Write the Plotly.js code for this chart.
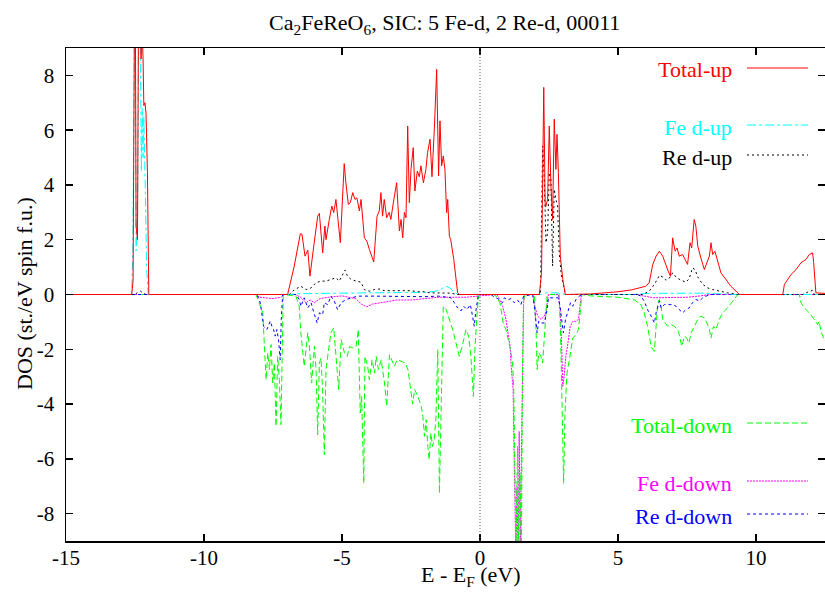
<!DOCTYPE html>
<html>
<head>
<meta charset="utf-8">
<script src="https://cdn.plot.ly/plotly-3.0.1.min.js"></script>
<style>html,body{margin:0;padding:0;background:#fff;}#chart{width:825px;height:592px;}</style>
</head>
<body>
<div id="chart"></div>
<script>
// ---- DATA ----
var seriesNames = ["Total-up", "Fe d-up", "Re d-up", "Total-down", "Fe d-down", "Re d-down"];

var totalUpX = [-15, -12.62, -12.57, -12.54, -12.5, -12.46, -12.41, -12.36, -12.32, -12.28, -12.25, -12.21, -12.18, -12.14, -12.1, -12.05, -12.0,
  -7.2, -6.97, -6.73, -6.51, -6.45, -6.34, -6.24, -6.16, -6.0, -5.88, -5.82, -5.7, -5.62, -5.58, -5.46, -5.37, -5.3, -5.22, -5.06,
  -4.92, -4.86, -4.77, -4.7, -4.61, -4.53, -4.46, -4.37, -4.31, -4.19, -4.1, -4.01, -3.85, -3.73, -3.65, -3.59, -3.53, -3.47, -3.38,
  -3.29, -3.23, -3.14, -3.02, -2.92, -2.86, -2.8, -2.74, -2.68, -2.62, -2.56, -2.5, -2.42, -2.36, -2.27, -2.2, -2.14, -2.05, -1.96,
  -1.9, -1.81, -1.74, -1.65, -1.57, -1.5, -1.45, -1.39, -1.33, -1.27, -1.21, -1.17, -1.11, -1.06, -0.95, -0.81, -0.75,
  2.1, 2.15, 2.23, 2.31, 2.36, 2.38, 2.45, 2.51, 2.57, 2.63, 2.69, 2.75, 2.79, 2.84, 2.91, 3.0, 3.09, 3.3,
  4.0, 4.5, 5.0, 5.5, 5.8, 6.0, 6.13, 6.26, 6.38, 6.5, 6.62, 6.74, 6.82, 6.9, 6.98, 7.07, 7.14, 7.22, 7.34, 7.52, 7.61, 7.67, 7.76,
  7.82, 7.89, 8.0, 8.13, 8.22, 8.31, 8.37, 8.43, 8.51, 8.61, 8.73, 8.91, 9.09, 9.34, 9.4,
  10.97, 11.03, 11.27, 11.45, 11.63, 11.81, 11.93, 12.05, 12.09, 12.17, 12.5];
var totalUpY = [0, 0, 0.5, 14, 14, 2.5, 2, 13, 13, 8.6, 9.8, 8.7, 6.9, 7.0, 6.6, 4.5, 0,
  0, 0, 1.04, 2.22, 2.2, 1.4, 1.62, 0.67, 1.95, 2.86, 2.96, 1.52, 2.5, 2.0, 2.74, 3.23, 2.99, 3.47, 1.89,
  4.78, 4.08, 3.29, 3.35, 3.72, 3.47, 3.53, 3.05, 3.47, 2.07, 1.95, 1.65, 1.19, 2.86, 3.05, 3.72, 2.86, 3.47, 2.8,
  3.0, 2.74, 3.35, 4.08, 2.32, 2.74, 2.07, 3.0, 2.8, 6.15, 3.35, 4.57, 5.36, 3.78, 4.51, 4.3, 4.7, 4.08, 4.57,
  5.18, 5.67, 4.3, 6.15, 8.22, 4.33, 6.34, 4.7, 5.06, 4.57, 2.99, 3.47, 2.13, 2.0, 1.28, 0.06, 0,
  0, 0, 0.8, 7.56, 3.35, 3.2, 3.47, 6.15, 3.96, 2.74, 6.4, 4.57, 5.85, 4.45, 1.4, 0.55, 0, 0,
  0.02, 0.06, 0.1, 0.17, 0.25, 0.3, 0.43, 1.1, 1.4, 1.58, 1.4, 1.04, 0.85, 0.67, 2.07, 1.58, 1.7, 1.4, 1.46, 1.1, 1.89, 1.7, 2.74,
  2.5, 1.77, 1.34, 0.91, 1.16, 1.4, 1.89, 1.46, 1.58, 1.25, 0.79, 0.55, 0.3, 0.06, 0,
  0, 0.37, 0.73, 0.91, 1.16, 1.28, 1.46, 1.52, 1.16, 0.06, 0.04];

var feUpX = [-15, -12.62, -12.58, -12.55, -12.5, -12.46, -12.4, -12.36, -12.32, -12.29, -12.27, -12.24, -12.21, -12.18, -12.15, -12.12, -12.08, -12.02,
  -7.0, -6.5, -5.0, -4.0, -3.0, -2.0, -1.6, -1.4, -1.25, -1.1, -0.95, -0.8,
  2.2, 2.4, 2.8, 3.1, 5.5, 6.0, 7.0, 8.0, 8.8, 9.3, 12.5];
var feUpY = [0, 0, 1.6, 12, 12, 1.6, 3.7, 12, 10, 7.0, 4.5, 6.8, 5.0, 6.5, 4.2, 3.5, 1, 0,
  0, 0.03, 0.05, 0.05, 0.07, 0.08, 0.12, 0.2, 0.3, 0.25, 0.1, 0,
  0, 0.06, 0.06, 0, 0, 0.04, 0.05, 0.05, 0.02, 0, 0];

var reUpX = [-15, -12.5, -12.4, -12.3, -12.2, -12.1,
  -6.9, -6.73, -6.49, -6.3, -6.12, -5.94, -5.76, -5.58, -5.4, -5.22, -5.1, -4.97, -4.89, -4.8, -4.67, -4.49, -4.31, -4.19,
  -4.01, -3.83, -3.65, -3.47, -3.23, -2.98, -2.74, -2.5, -2.27, -2.03, -1.79, -1.54, -1.3, -1.06, -0.82,
  2.19, 2.27, 2.33, 2.39, 2.45, 2.51, 2.57, 2.63, 2.69, 2.75, 2.81, 2.87, 2.95, 3.1,
  5.9, 6.13, 6.32, 6.5, 6.62, 6.74, 6.9, 6.98, 7.1, 7.28, 7.46, 7.58, 7.7, 7.79, 7.89, 8.07, 8.25, 8.43, 8.67, 8.97, 9.34,
  11.7, 11.9, 12.05, 12.12, 12.5];
var reUpY = [0, 0, 0.08, 0.12, 0.05, 0,
  0, 0.17, 0.3, 0.18, 0.24, 0.43, 0.49, 0.49, 0.55, 0.61, 0.49, 0.73, 0.89, 0.67, 0.55, 0.49, 0.45, 0.18,
  0.12, 0.18, 0.2, 0.14, 0.14, 0.12, 0.12, 0.14, 0.1, 0.1, 0.06, 0.06, 0.06, 0.05, 0,
  0, 5.42, 4.2, 1.89, 2.26, 4.45, 4.2, 1.04, 3.84, 3.47, 3.23, 1.52, 0.67, 0,
  0, 0.12, 0.37, 0.7, 0.64, 0.52, 0.64, 0.79, 0.64, 0.52, 0.45, 0.58, 0.97, 0.91, 0.64, 0.37, 0.24, 0.18, 0.12, 0.06, 0,
  0, 0.1, 0.15, 0, 0];

var totalDnX = [-15, -8.12, -8.0, -7.87, -7.81, -7.75, -7.69, -7.63, -7.57, -7.51, -7.45, -7.39, -7.33, -7.27, -7.21, -7.17, -7.13, -7.09,
  -6.67, -6.55, -6.49, -6.37, -6.3, -6.24, -6.18, -6.1, -6.0, -5.94, -5.88, -5.82, -5.76, -5.7, -5.64, -5.58, -5.52, -5.46, -5.4,
  -5.3, -5.22, -5.12, -5.03, -4.91, -4.81, -4.73, -4.61, -4.49, -4.41, -4.34, -4.29, -4.21, -4.17, -4.07, -4.01, -3.91, -3.82,
  -3.76, -3.68, -3.58, -3.46, -3.38, -3.28, -3.2, -3.1, -3.0, -2.86, -2.71, -2.61, -2.5, -2.44, -2.37, -2.25, -2.13, -2.07, -2.01,
  -1.95, -1.89, -1.84, -1.78, -1.72, -1.66, -1.6, -1.53, -1.47, -1.41, -1.33, -1.23, -1.11, -0.99, -0.87, -0.75, -0.63, -0.51,
  -0.41, -0.33, -0.24, -0.18, -0.1, -0.04,
  0.5, 0.58, 0.72, 0.84, 0.94, 1.02, 1.1, 1.18, 1.22, 1.27, 1.3, 1.36, 1.4, 1.45, 1.5, 1.54, 1.58, 1.63,
  1.97, 2.03, 2.07, 2.13, 2.21, 2.27, 2.36, 2.43, 2.48,
  2.87, 2.93, 3.0, 3.03, 3.08, 3.15, 3.24, 3.36, 3.48, 3.57, 3.64, 3.69,
  4.0, 5.0, 5.62, 5.71, 5.83, 5.95, 6.07, 6.2, 6.26, 6.32, 6.38, 6.44, 6.5, 6.56, 6.62, 6.7, 6.8, 6.92, 7.04, 7.16, 7.22, 7.31,
  7.41, 7.49, 7.57, 7.65, 7.77, 7.89, 8.0, 8.13, 8.22, 8.31, 8.37, 8.46, 8.55, 8.67, 8.79, 8.97, 9.16, 9.34,
  11.57, 11.63, 11.75, 11.93, 12.11, 12.23, 12.29, 12.35, 12.47, 12.5];
var totalDnY = [0, 0, -0.3, -0.67, -1.89, -3.11, -2.13, -2.74, -1.83, -3.23, -2.5, -4.81, -2.26, -3.11, -4.75, -1.89, -0.06, 0,
  -0.06, -0.43, -1.4, -2.62, -1.89, -1.4, -1.89, -3.23, -1.89, -2.74, -5.12, -2.5, -2.32, -3.6, -5.85, -2.74, -2.26, -1.9, -1.4,
  -1.22, -2.26, -3.47, -1.65, -2.13, -2.26, -1.9, -1.95, -1.9, -1.28, -4.33, -3.72, -6.89, -2.26, -2.62, -3.11, -2.38, -2.87,
  -2.26, -2.74, -2.38, -3.23, -4.08, -2.2, -2.38, -2.62, -2.38, -2.44, -2.5, -2.74, -3.47, -4.0, -3.47, -3.72, -4.08, -4.45, -5.18,
  -4.57, -5.55, -6.03, -5.06, -5.55, -5.3, -4.57, -2.01, -7.25, -4.33, -0.43, -0.55, -0.91, -1.28, -1.77, -2.26, -1.83, -1.28,
  -1.52, -2.26, -3.72, -1.89, -0.6, 0,
  0, -0.06, -0.3, -1.04, -1.28, -1.65, -2.0, -2.5, -3.35, -6.7, -9.5, -5.55, -9.5, -6.5, -9.5, -2.62, -0.2, 0,
  0, -1.28, -2.74, -2.13, -2.26, -2.5, -1.28, -0.06, 0,
  0, -1.89, -5.79, -6.89, -4.33, -2.87, -2.38, -1.59, -1.46, -1.28, -0.55, 0,
  -0.05, -0.1, -0.2, -0.3, -0.37, -0.67, -1.16, -1.89, -2.01, -2.07, -1.16, -0.3, -0.18, -0.43, -0.91, -1.04, -1.16, -1.1, -1.16, -1.28, -1.46, -1.89,
  -1.52, -1.59, -1.77, -1.4, -1.16, -0.91, -0.79, -0.85, -1.04, -1.28, -1.59, -1.16, -1.28, -0.91, -0.67, -0.49, -0.24, 0,
  0, -0.3, -0.49, -0.67, -0.91, -1.1, -0.98, -1.34, -1.65, -1.7];

var feDnX = [-15, -8.1, -8.0, -7.5, -7.2, -7.1, -6.7, -6.5, -6.3, -6.15, -6.0, -5.8, -5.5, -5.0, -4.5, -4.3, -4.1, -3.9, -3.6, -3.3,
  -3.0, -2.5, -2.0, -1.5, -1.0, -0.5, 0,
  0.6, 0.65, 0.82, 0.94, 1.03, 1.09, 1.13, 1.2, 1.24, 1.3, 1.34, 1.38, 1.42, 1.46, 1.5, 1.54, 1.58, 1.62,
  1.91, 1.97, 2.03, 2.09, 2.21, 2.33, 2.39, 2.45, 2.48,
  2.84, 2.91, 2.96, 3.0, 3.05, 3.11, 3.17, 3.27, 3.36, 3.48, 3.57, 3.63, 3.67,
  5.7, 5.9, 6.3, 7.0, 7.5, 8.0, 8.3, 12.5];
var feDnY = [0, 0, -0.1, -0.15, -0.1, 0, 0, -0.1, -0.3, -0.2, -0.3, -0.15, -0.1, -0.05, -0.15, -0.35, -0.45, -0.35, -0.3, -0.25,
  -0.2, -0.2, -0.15, -0.1, -0.1, -0.1, -0.05,
  0, -0.06, -0.43, -0.91, -1.59, -1.9, -2.62, -3.47, -6.1, -9.5, -7, -9.5, -5, -9.5, -6, -2.5, -0.3, 0,
  0, -0.37, -0.55, -0.79, -0.91, -0.79, -0.6, -0.12, 0,
  0, -0.67, -1.9, -3.35, -2.98, -2.26, -1.89, -1.16, -0.98, -0.98, -0.91, -0.43, 0,
  0, -0.05, -0.12, -0.1, -0.1, -0.05, 0, 0];

var reDnX = [-15, -8.08, -7.96, -7.9, -7.84, -7.72, -7.6, -7.54, -7.48, -7.42, -7.36, -7.3, -7.24, -7.2, -7.15,
  -6.67, -6.55, -6.49, -6.37, -6.24, -6.12, -6.0, -5.9, -5.82, -5.7, -5.64, -5.52, -5.4, -5.28, -5.16, -5.03, -4.85, -4.67, -4.43,
  -3.82, -3.0, -2.0, -1.5, -1.05, -0.93, -0.81, -0.69, -0.59, -0.47, -0.35, -0.27, -0.21, -0.15, -0.06,
  0.4, 0.52, 0.64, 0.82, 0.88, 1.0, 1.12, 1.24, 1.36, 1.48, 1.58,
  1.91, 1.97, 2.03, 2.07, 2.13, 2.21, 2.33, 2.43, 2.48,
  2.84, 2.9, 2.96, 3.02, 3.1, 3.18, 3.28, 3.36, 3.48, 3.6, 3.7,
  5.7, 5.83, 5.95, 6.07, 6.2, 6.32, 6.38, 6.5, 6.56, 6.68, 6.8, 6.98, 7.1, 7.22, 7.34, 7.46, 7.58, 7.7, 7.82, 7.95, 8.07, 8.19, 8.35, 12.5];
var reDnY = [0, 0, -0.3, -0.79, -1.16, -1.28, -0.97, -1.16, -1.28, -1.52, -1.28, -1.65, -2.38, -0.91, 0,
  0, -0.18, -0.43, -0.12, -0.49, -0.3, -0.73, -1.04, -0.67, -0.73, -0.3, -0.37, -0.06, -0.24, -0.55, -0.3, -0.18, -0.12, -0.06,
  -0.06, -0.08, -0.08, -0.06, -0.12, -0.3, -0.49, -0.6, -0.43, -0.55, -0.37, -0.79, -1.16, -0.6, 0,
  0, -0.1, -0.15, -0.3, -0.12, -0.2, -0.15, -0.3, -0.2, -0.37, -0.06,
  0, -0.43, -1.04, -1.4, -0.97, -1.04, -1.04, -0.55, -0.12,
  -0.12, -0.43, -1.04, -1.4, -0.91, -0.67, -0.3, -0.43, -0.18, -0.06, 0,
  0, -0.06, -0.24, -0.55, -0.79, -1.04, -0.67, -0.24, -0.49, -0.37, -0.37, -0.37, -0.43, -0.55, -0.67, -0.55, -0.49, -0.3, -0.18, -0.24, -0.12, -0.06, 0, 0];

var xTickVals = [-15, -10, -5, 0, 5, 10];
var xTickText = ["-15", "-10", "-5", "0", "5", "10"];
var yTickVals = [-8, -6, -4, -2, 0, 2, 4, 6, 8];
var yTickText = ["-8", "-6", "-4", "-2", "0", "2", "4", "6", "8"];
var titleText = "Ca<sub>2</sub>FeReO<sub>6</sub>, SIC: 5 Fe-d, 2 Re-d, 00011";
var xTitleText = "E - E<sub>F</sub> (eV)";
var yTitleText = "DOS (st./eV spin f.u.)";

// ---- STYLES ----
var FONT = "Liberation Serif";
var colors = ["#ff0000", "#00ffff", "#000000", "#00ff00", "#ff00ff", "#0000ff"];
var dashes = ["solid", "dashdot", "2px,3px", "6px,3px", "2px,1px", "3px,3px"];
var xs = [totalUpX, feUpX, reUpX, totalDnX, feDnX, reDnX];
var ys = [totalUpY, feUpY, reUpY, totalDnY, feDnY, reDnY];
var order = [4, 3, 5, 1, 2, 0];

var traces = order.map(function (i) {
  return {
    x: xs[i], y: ys[i], type: "scatter", mode: "lines", name: seriesNames[i],
    line: {color: colors[i], width: 1, dash: dashes[i]}, showlegend: false, hoverinfo: "skip"
  };
});

var L = 66, R = 825, T = 48, B = 541;
function px2paperX(p) { return (p - L) / (R - L); }
function px2paperY(p) { return (B - p) / (B - T); }

var legendPy = [70, 127, 157, 425, 483, 516];
var annotations = [];
var shapes = [{
  type: "line", xref: "x", yref: "paper", x0: 0, x1: 0, y0: 0, y1: 1,
  line: {color: "#555", width: 1, dash: "1px,2px"}
}];
for (var i = 0; i < 6; i++) {
  annotations.push({
    xref: "paper", yref: "paper", x: px2paperX(734), y: px2paperY(legendPy[i]),
    xanchor: "right", yanchor: "middle", text: seriesNames[i], showarrow: false,
    font: {family: FONT, size: 22, color: colors[i]}
  });
  shapes.push({
    type: "line", xref: "paper", yref: "paper",
    x0: px2paperX(747), x1: px2paperX(808), y0: px2paperY(legendPy[i] - 2), y1: px2paperY(legendPy[i] - 2),
    line: {color: colors[i], width: 1, dash: dashes[i]}
  });
}
annotations.push({
  xref: "paper", yref: "paper", x: px2paperX(471), y: px2paperY(592), xanchor: "center", yanchor: "bottom",
  text: xTitleText, showarrow: false, font: {family: FONT, size: 22, color: "#000"}
});
annotations.push({
  xref: "paper", yref: "paper", x: px2paperX(24), y: px2paperY(294), xanchor: "center", yanchor: "middle",
  textangle: -90, text: yTitleText, showarrow: false, font: {family: FONT, size: 22, color: "#000"}
});

var layout = {
  width: 825, height: 592,
  margin: {l: L, r: 825 - R, t: T, b: 592 - B, pad: 0},
  paper_bgcolor: "#fff", plot_bgcolor: "#fff",
  font: {family: FONT, size: 21, color: "#000"},
  title: {text: titleText, x: 0.539, xanchor: "center", y: 0.962, yanchor: "middle",
    font: {family: FONT, size: 22, color: "#000"}},
  xaxis: {
    range: [-15, 12.5], tickvals: xTickVals, ticktext: xTickText, ticks: "inside", ticklen: 7, tickwidth: 1.5, tickcolor: "#000",
    showline: true, linecolor: "#000", linewidth: 1.5, mirror: "ticks", showgrid: false, zeroline: false,
    tickfont: {family: FONT, size: 21}, fixedrange: true, ticklabelstandoff: -3
  },
  yaxis: {
    range: [-9, 9], tickvals: yTickVals, ticktext: yTickText, ticks: "inside", ticklen: 7, tickwidth: 1.5, tickcolor: "#000",
    showline: true, linecolor: "#000", linewidth: 1.5, mirror: "ticks", showgrid: false, zeroline: false,
    tickfont: {family: FONT, size: 21}, fixedrange: true, ticklabelstandoff: 6
  },
  annotations: annotations,
  shapes: shapes,
  showlegend: false
};

Plotly.newPlot("chart", traces, layout, {staticPlot: true, displayModeBar: false});
</script>
</body>
</html>
